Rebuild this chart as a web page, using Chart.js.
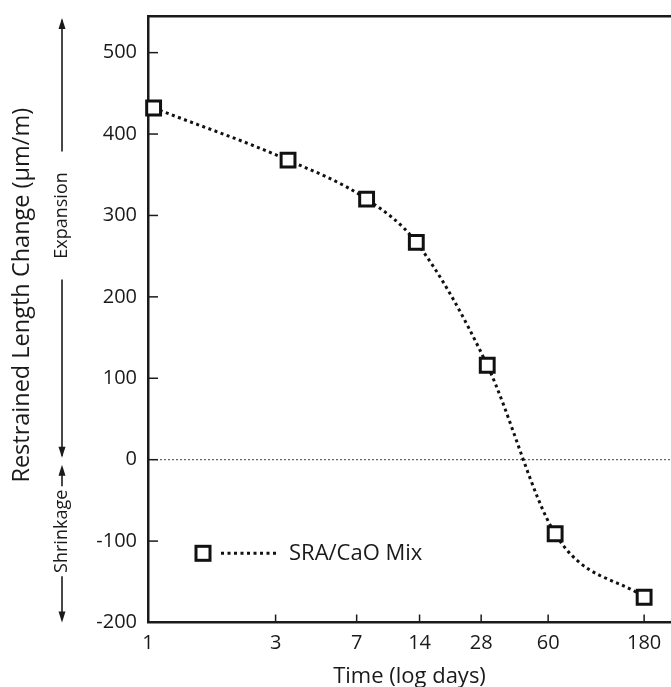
<!DOCTYPE html>
<html>
<head>
<meta charset="utf-8">
<script src="https://cdn.jsdelivr.net/npm/chart.js@4.4.0/dist/chart.umd.min.js"></script>
<style>
  html, body { margin: 0; padding: 0; background: #fff; }
</style>
</head>
<body>
<canvas id="lengthChart" width="671" height="687"></canvas>
<script>
const ageDays = [1.04, 3.4, 7.8, 13.5, 30, 65, 180];
const lengthChange = [432, 368, 320, 267, 116, -91, -169];
const dayTicks = [1, 3, 7, 14, 28, 60, 180];
const strainTicks = [-200, -100, 0, 100, 200, 300, 400, 500];
const seriesName = "SRA/CaO Mix";
const yTitle = "Restrained Length Change (μm/m)";
const dayRange = [1, 245];
const strainRange = [-200, 545];

// the figure's time axis is log of (days - 0.4)
const dayShift = 0.4;
function toAxis(d) {
  return Math.log10(d - dayShift);
}

const fontFamily = "'Open Sans', 'Noto Sans', sans-serif";
const ink = "#1a1a1a";

function drawArrowHead(ctx, x, y, dir) {
  ctx.beginPath();
  ctx.moveTo(x, y);
  ctx.lineTo(x - 3.5, y - dir * 11);
  ctx.lineTo(x + 3.5, y - dir * 11);
  ctx.closePath();
  ctx.fill();
}

function vLine(ctx, x, y1, y2) {
  ctx.beginPath();
  ctx.moveTo(x, y1);
  ctx.lineTo(x, y2);
  ctx.stroke();
}

function sideText(ctx, text, x, y) {
  ctx.save();
  ctx.translate(x, y);
  ctx.rotate(-Math.PI / 2);
  ctx.textAlign = "center";
  ctx.textBaseline = "middle";
  ctx.fillText(text, 0, 0);
  ctx.restore();
}

const figureExtras = {
  id: "figureExtras",
  beforeDatasetsDraw(chart) {
    const { ctx, chartArea, scales: { x, y } } = chart;
    ctx.save();

    // dotted zero line
    const y0 = y.getPixelForValue(0);
    ctx.strokeStyle = "#444";
    ctx.lineWidth = 1;
    ctx.setLineDash([2, 2]);
    ctx.beginPath();
    ctx.moveTo(chartArea.left, y0);
    ctx.lineTo(chartArea.right, y0);
    ctx.stroke();
    ctx.setLineDash([]);

    // tick marks pointing into the plot
    ctx.strokeStyle = ink;
    ctx.lineWidth = 1.5;
    strainTicks.forEach((v) => {
      if (v === strainRange[0]) return;
      const py = y.getPixelForValue(v);
      ctx.beginPath();
      ctx.moveTo(chartArea.left, py);
      ctx.lineTo(chartArea.left + 10, py);
      ctx.stroke();
    });
    dayTicks.forEach((d) => {
      if (d === dayRange[0]) return;
      const px = x.getPixelForValue(toAxis(d));
      vLine(ctx, px, chartArea.bottom, chartArea.bottom - 8);
    });
    ctx.restore();
  },
  afterDatasetsDraw(chart) {
    const { ctx, chartArea, scales: { y } } = chart;
    ctx.save();

    // y axis title, centred a little above the middle as in the figure
    ctx.fillStyle = ink;
    ctx.font = "23.5px " + fontFamily;
    sideText(ctx, yTitle, 22, y.getPixelForValue(202));

    // legend inside the plot
    const ly = y.getPixelForValue(-115);
    const lx = chartArea.left + 55;
    ctx.strokeStyle = "#111";
    ctx.lineWidth = 3;
    ctx.fillStyle = "#fff";
    ctx.fillRect(lx - 7, ly - 7, 14, 14);
    ctx.strokeRect(lx - 7, ly - 7, 14, 14);
    ctx.setLineDash([3, 3.5]);
    ctx.beginPath();
    ctx.moveTo(lx + 18, ly);
    ctx.lineTo(lx + 76, ly);
    ctx.stroke();
    ctx.setLineDash([]);
    ctx.fillStyle = ink;
    ctx.font = "22px " + fontFamily;
    ctx.textAlign = "left";
    ctx.textBaseline = "middle";
    ctx.fillText(seriesName, lx + 86, ly);

    // Expansion / Shrinkage arrows
    const ax = 62;
    const y0 = y.getPixelForValue(0);
    const expY = y.getPixelForValue(300);
    const shrY = y.getPixelForValue(-88);
    ctx.strokeStyle = ink;
    ctx.fillStyle = ink;
    ctx.lineWidth = 1.6;
    vLine(ctx, ax, chartArea.top + 4, expY - 64);
    vLine(ctx, ax, expY + 64, y0 - 4);
    drawArrowHead(ctx, ax, chartArea.top + 2, -1);
    drawArrowHead(ctx, ax, y0 - 2, 1);
    vLine(ctx, ax, y0 + 8, shrY - 45);
    vLine(ctx, ax, shrY + 45, chartArea.bottom - 4);
    drawArrowHead(ctx, ax, y0 + 5, -1);
    drawArrowHead(ctx, ax, chartArea.bottom, 1);
    ctx.font = "18px " + fontFamily;
    sideText(ctx, "Expansion", ax, expY);
    sideText(ctx, "Shrinkage", ax, shrY);
    ctx.restore();
  },
};

const ctx = document.getElementById("lengthChart").getContext("2d");

const chart = new Chart(ctx, {
  type: "line",
  data: {
    datasets: [
      {
        label: seriesName,
        data: ageDays.map((d, i) => ({ x: toAxis(d), y: lengthChange[i] })),
        borderColor: "#111",
        borderWidth: 3,
        borderDash: [3, 3.5],
        cubicInterpolationMode: "monotone",
        pointStyle: "rect",
        pointRadius: 9.8,
        pointHoverRadius: 9.8,
        pointBorderWidth: 3,
        pointBorderColor: "#111",
        pointBackgroundColor: "#fff",
        clip: false,
      },
    ],
  },
  options: {
    responsive: false,
    animation: false,
    events: [],
    layout: { padding: 0, autoPadding: false },
    plugins: {
      legend: { display: false },
      tooltip: { enabled: false },
    },
    scales: {
      x: {
        type: "linear",
        position: "bottom",
        min: toAxis(dayRange[0]),
        max: toAxis(dayRange[1]),
        afterBuildTicks: (scale) => {
          scale.ticks = dayTicks.map((d) => ({ value: toAxis(d) }));
        },
        afterFit: (scale) => {
          scale.height = 64.5;
          scale.paddingLeft = 0;
          scale.paddingRight = 0;
        },
        ticks: {
          callback: (value, index) => dayTicks[index],
          color: ink,
          font: { family: fontFamily, size: 20 },
          padding: 9,
          maxRotation: 0,
          autoSkip: false,
        },
        grid: { display: false, drawTicks: false },
        border: { color: ink, width: 2.5 },
        title: {
          display: true,
          text: "Time (log days)",
          color: ink,
          font: { family: fontFamily, size: 22, lineHeight: 1 },
          padding: { top: 0, bottom: -1 },
        },
      },
      xTop: {
        type: "linear",
        position: "top",
        min: 0,
        max: 1,
        ticks: { display: false },
        grid: { display: false, drawTicks: false },
        border: { color: ink, width: 2.5 },
        afterFit: (scale) => {
          scale.height = 16;
        },
      },
      y: {
        type: "linear",
        min: strainRange[0],
        max: strainRange[1],
        afterBuildTicks: (scale) => {
          scale.ticks = strainTicks.map((v) => ({ value: v }));
        },
        afterFit: (scale) => {
          scale.width = 148;
          scale.paddingTop = 0;
          scale.paddingBottom = 0;
        },
        ticks: {
          color: ink,
          font: { family: fontFamily, size: 20 },
          padding: 11,
        },
        grid: { display: false, drawTicks: false },
        border: { color: ink, width: 2.5 },
      },
    },
  },
  plugins: [figureExtras],
});
</script>
</body>
</html>
